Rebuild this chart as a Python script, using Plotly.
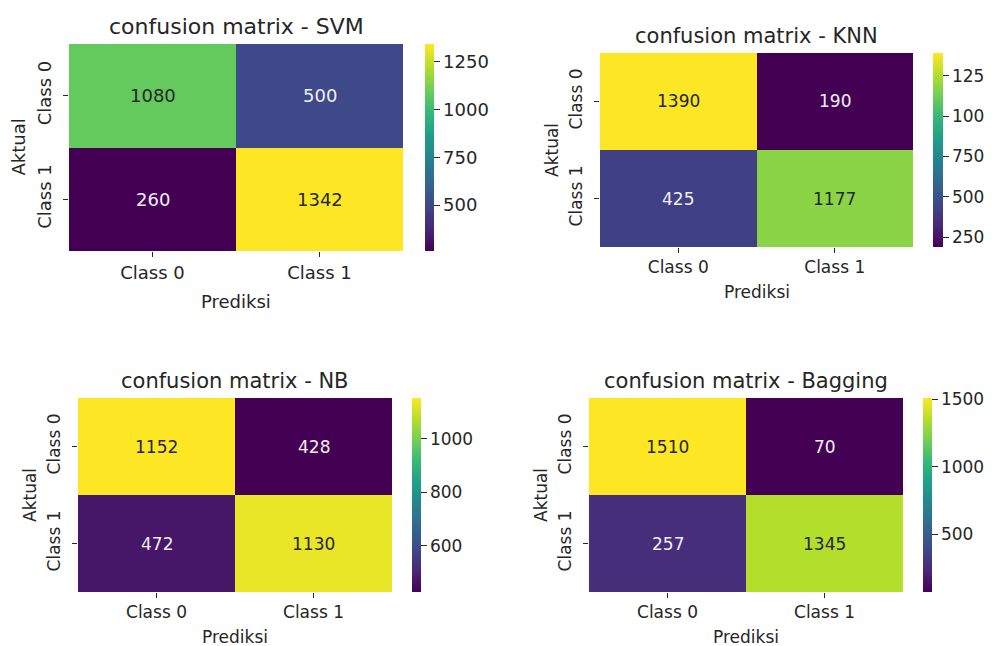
import plotly.graph_objects as go

# The page body keeps its default 8px margin, so the figure is drawn 8px in
# from the window's top-left corner; reference pixels are offset by OFF.
OFF = 8
W, H = 992 - OFF, 646 - OFF

labels = ["Class 0", "Class 1"]
titles = ["confusion matrix - SVM", "confusion matrix - KNN",
          "confusion matrix - NB", "confusion matrix - Bagging"]
svm = [[1080, 500], [260, 1342]]
knn = [[1390, 190], [425, 1177]]
nb = [[1152, 428], [472, 1130]]
bagging = [[1510, 70], [257, 1345]]
matrices = [svm, knn, nb, bagging]
cbar_dtick = [250, 250, 200, 500]

# reference-pixel boxes: heatmap left, right, top, bottom, colorbar left,
# colorbar thickness, font size, title font size
boxes = [
    (69, 403, 44, 251, 425, 9, 18, 22),
    (600, 913, 53, 247, 933, 10, 17, 21),
    (78, 392, 398, 592, 412, 9, 17, 21),
    (589, 903, 398, 592, 923, 9, 17, 21),
]

FONT = "DejaVu Sans"
TXT = "#262626"


def px(x):
    return (x - OFF) / W


def py(y):
    return 1 - (y - OFF) / H


fig = go.Figure()
annotations = []
for i, (z, title, dt, box) in enumerate(zip(matrices, titles, cbar_dtick, boxes)):
    L, R, T, B, cbx, cbt, fs, tfs = box
    n = i + 1
    xa = "x" if n == 1 else f"x{n}"
    ya = "y" if n == 1 else f"y{n}"
    zmin = min(min(r) for r in z)
    zmax = max(max(r) for r in z)
    fig.add_trace(go.Heatmap(
        z=z, x=labels, y=labels, xaxis=xa, yaxis=ya,
        colorscale="Viridis", zmin=zmin, zmax=zmax,
        hoverinfo="skip",
        colorbar=dict(
            x=px(cbx), xanchor="left", xref="paper",
            y=py(B), yanchor="bottom", yref="paper",
            len=(B - T) / H, lenmode="fraction",
            thickness=cbt, thicknessmode="pixels", xpad=0, ypad=0,
            outlinewidth=0, ticks="outside", ticklen=6, tickwidth=1,
            tickcolor=TXT, tick0=0, dtick=dt,
            tickfont=dict(family=FONT, size=fs, color=TXT),
        ),
    ))
    axsuffix = "" if n == 1 else str(n)
    fig.update_layout({
        f"xaxis{axsuffix}": dict(
            domain=[px(L), px(R)], anchor=ya, showgrid=False, zeroline=False,
            ticks="outside", ticklen=5, tickcolor=TXT, showline=False,
            automargin=False,
            tickfont=dict(family=FONT, size=fs, color=TXT),
        ),
        f"yaxis{axsuffix}": dict(
            domain=[py(B), py(T)], anchor=xa, showgrid=False, zeroline=False,
            autorange="reversed", ticks="outside", ticklen=5, tickcolor=TXT,
            tickangle=-90, showline=False, automargin=False,
            ticklabelstandoff=5,
            tickfont=dict(family=FONT, size=fs, color=TXT),
        ),
    })
    # cell values
    mid = (zmin + zmax) / 2
    for r, row in enumerate(z):
        for c, v in enumerate(row):
            annotations.append(dict(
                x=labels[c], y=labels[r], xref=xa, yref=ya, text=str(v),
                showarrow=False,
                font=dict(family=FONT, size=fs, color=TXT if v > mid else "#f2eef8"),
            ))
    cx = (L + R) / 2
    annotations.append(dict(x=px(cx), y=py(T - (18 if n == 1 else 17)), xref="paper", yref="paper",
                            text=title, showarrow=False, xanchor="center", yanchor="middle",
                            font=dict(family=FONT, size=tfs, color=TXT)))
    annotations.append(dict(x=px(cx), y=py(B + (50 if n == 1 else 45)), xref="paper", yref="paper",
                            text="Prediksi", showarrow=False, xanchor="center", yanchor="middle",
                            font=dict(family=FONT, size=fs, color=TXT)))
    annotations.append(dict(x=px(L - (51 if n == 1 else 48)), y=py((T + B) / 2), xref="paper", yref="paper",
                            text="Aktual", showarrow=False, xanchor="center", yanchor="middle",
                            textangle=-90,
                            font=dict(family=FONT, size=fs, color=TXT)))

fig.update_layout(
    width=W, height=H,
    margin=dict(l=0, r=0, t=0, b=0, pad=0, autoexpand=False),
    paper_bgcolor="white", plot_bgcolor="white",
    annotations=annotations, showlegend=False,
    font=dict(family=FONT, color=TXT),
)

fig.write_html("out.html")
